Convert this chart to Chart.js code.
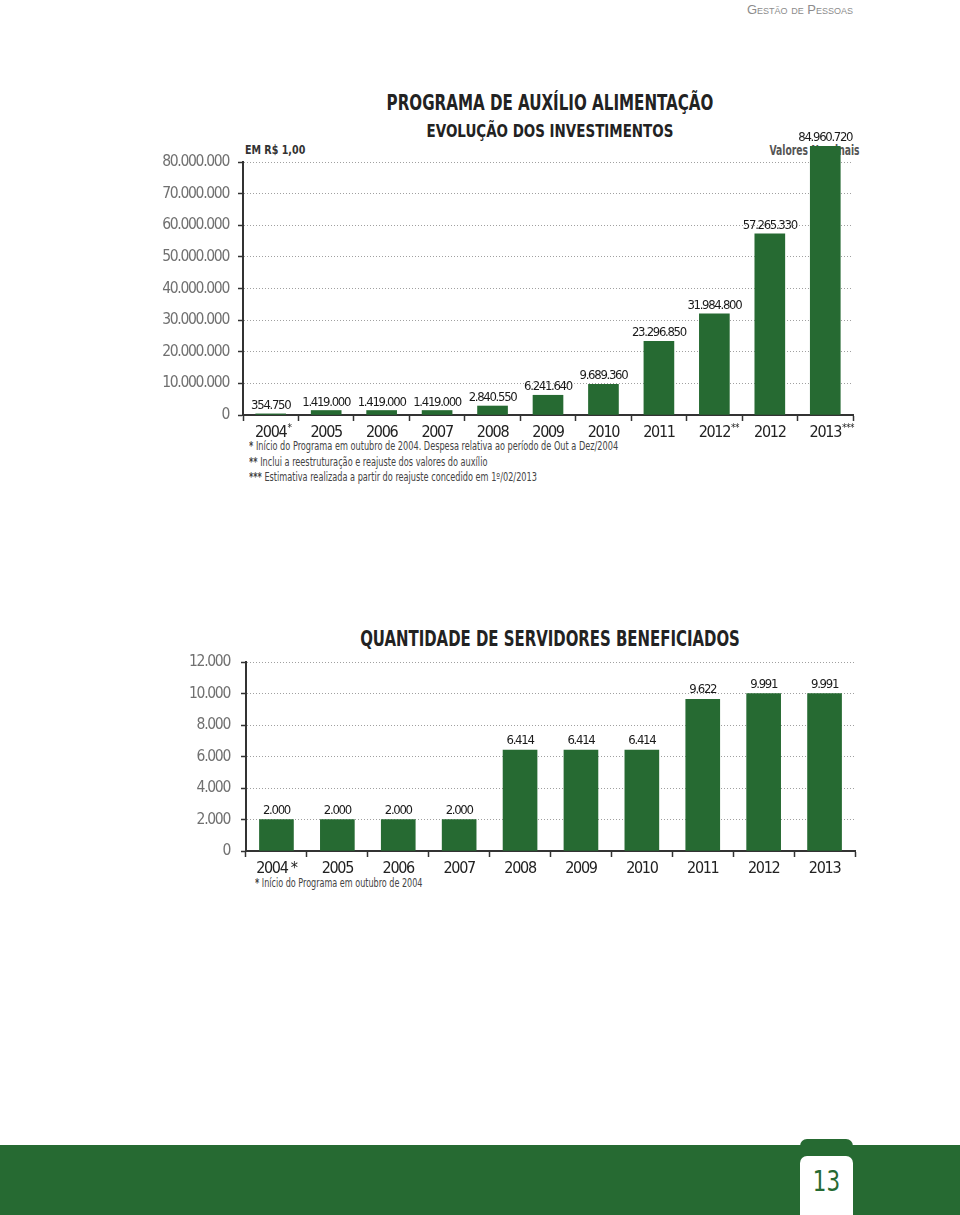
<!DOCTYPE html>
<html><head><meta charset="utf-8">
<script src="https://cdn.jsdelivr.net/npm/chart.js@4.4.0/dist/chart.umd.min.js"></script>
<style>
body{margin:0;width:960px;height:1215px;position:relative;background:#fff;overflow:hidden;font-family:'DejaVu Sans Condensed','DejaVu Sans',sans-serif;}
.t{position:absolute;white-space:nowrap;}
.c{left:0;width:1100px;text-align:center;transform-origin:550px 50%;}
.l{transform-origin:0 50%;}
.r{transform-origin:100% 50%;}
canvas{position:absolute;left:0;}
</style></head><body>
<div class="t" style="right:107px;top:1px;line-height:18px;font-family:'Liberation Sans',sans-serif;font-variant:small-caps;font-size:13px;color:#8c8c8c;">Gestão de Pessoas</div>
<div class="t c" style="top:89px;line-height:28px;font-size:21px;font-weight:bold;color:#222;transform:scaleX(0.8);">PROGRAMA DE AUXÍLIO ALIMENTAÇÃO</div>
<div class="t c" style="top:119px;line-height:24px;font-size:18px;font-weight:bold;color:#222;transform:scaleX(0.83);">EVOLUÇÃO DOS INVESTIMENTOS</div>
<div class="t l" style="left:245px;top:141px;line-height:18px;font-size:12.5px;font-weight:bold;color:#333;transform:scaleX(0.85);">EM R$ 1,00</div>
<div class="t r" style="right:100px;top:141px;line-height:18px;font-size:13.5px;font-weight:bold;color:#555;transform:scaleX(0.76);">Valores Nominais</div>
<div class="t l" style="left:249px;top:438px;line-height:16px;font-size:11.5px;color:#444;transform:scaleX(0.79);"><b>*</b> Início do Programa em outubro de 2004. Despesa relativa ao período de Out a Dez/2004</div>
<div class="t l" style="left:249px;top:454px;line-height:16px;font-size:11.5px;color:#444;transform:scaleX(0.79);"><b>**</b> Inclui a reestruturação e reajuste dos valores do auxílio</div>
<div class="t l" style="left:249px;top:469px;line-height:16px;font-size:11.5px;color:#444;transform:scaleX(0.79);"><b>***</b> Estimativa realizada a partir do reajuste concedido em 1º/02/2013</div>
<div class="t c" style="top:625px;line-height:28px;font-size:21px;font-weight:bold;color:#222;transform:scaleX(0.79);">QUANTIDADE DE SERVIDORES BENEFICIADOS</div>
<div class="t l" style="left:255px;top:875px;line-height:16px;font-size:11.5px;color:#444;transform:scaleX(0.78);"><b>*</b> Início do Programa em outubro de 2004</div>
<canvas id="c1" width="960" height="350" style="top:110px;"></canvas>
<canvas id="c2" width="960" height="260" style="top:620px;"></canvas>
<div style="position:absolute;left:0;top:1145px;width:960px;height:70px;background:#266a32;"></div>
<div style="position:absolute;left:800px;top:1139px;width:53px;height:20px;background:#266a32;border-radius:7px 7px 0 0;"></div>
<div style="position:absolute;left:800px;top:1156px;width:53px;height:59px;background:#fff;border-radius:7px 7px 0 0;"></div>
<div class="t" style="left:800px;width:53px;text-align:center;top:1166px;line-height:32px;font-size:28px;color:#266a32;transform:scaleX(0.85);">13</div>
<script>
const GREEN = '#266a32';
const investYears = ["2004*","2005","2006","2007","2008","2009","2010","2011","2012**","2012","2013***"];
const investValues = [354750,1419000,1419000,1419000,2840550,6241640,9689360,23296850,31984800,57265330,84960720];
const investTickStep = 10000000;
const investMax = 80000000;
const staffYears = ["2004 *","2005","2006","2007","2008","2009","2010","2011","2012","2013"];
const staffValues = [2000,2000,2000,2000,6414,6414,6414,9622,9991,9991];
const staffTickStep = 2000;
const staffMax = 12000;

const FONT = "'DejaVu Sans Condensed','DejaVu Sans',sans-serif";
function fmt(n){ return String(n).replace(/\B(?=(\d{3})+(?!\d))/g,'.'); }

const narrowText = {
  id:'narrowText',
  beforeDraw(chart){ chart.ctx.letterSpacing = '-1.3px'; }
};
const valueLabels = {
  id:'valueLabels',
  afterDatasetsDraw(chart, args, opts){
    const ctx = chart.ctx, meta = chart.getDatasetMeta(0), data = chart.data.datasets[0].data;
    ctx.save();
    ctx.font = opts.size + 'px ' + FONT;
    ctx.fillStyle = '#1a1a1a'; ctx.textAlign = 'center'; ctx.textBaseline = 'alphabetic';
    meta.data.forEach((bar,i)=>{ ctx.fillText(fmt(data[i]), bar.x, bar.y - opts.gap); });
    ctx.restore();
  }
};
const starMarks = {
  id:'starMarks',
  afterDraw(chart, args, opts){
    if(!opts.labels) return;
    const xs = chart.scales.x, ctx = chart.ctx;
    ctx.save();
    opts.labels.forEach((lab,i)=>{
      const m = lab.match(/\*+/); if(!m) return;
      const year = lab.replace(/\*/g,'');
      ctx.font = opts.size + 'px ' + FONT;
      const w = ctx.measureText(year).width;
      const x = xs.getPixelForTick(i) + w/2 + 1;
      ctx.font = '10px ' + FONT;
      ctx.letterSpacing = '-0.5px';
      ctx.fillStyle = '#222'; ctx.textAlign='left'; ctx.textBaseline='top';
      ctx.fillText(m[0], x, xs.top + 8);
      ctx.letterSpacing = '-1.3px';
    });
    ctx.restore();
  }
};

function makeChart(id, labels, values, o){
  return new Chart(document.getElementById(id), {
    type:'bar',
    data:{labels:labels, datasets:[{data:values, backgroundColor:GREEN, barThickness:o.bar, clip:false}]},
    options:{
      responsive:false, animation:false, devicePixelRatio:1,
      layout:{padding:{left:0,right:o.right,top:o.top,bottom:0}},
      plugins:{legend:{display:false}, tooltip:{enabled:false},
        valueLabels:{size:o.labelSize, gap:o.gap}, starMarks:{labels:o.stars, size:o.xSize}},
      scales:{
        x:{
          grid:{display:true, drawOnChartArea:false, drawTicks:true, tickLength:6, tickColor:'#333', tickWidth:1.5, offset:true},
          border:{display:true, color:'#333', width:2},
          ticks:{font:{family:FONT, size:o.xSize}, color:'#222', padding:o.xPad, maxRotation:0, autoSkip:false,
            callback:(v,i)=> o.stars ? labels[i].replace(/\*/g,'') : labels[i]},
          afterFit:s=>{ s.height = o.xH; }
        },
        y:{
          min:0, max:o.max,
          ticks:{stepSize:o.step, callback:v=>fmt(v), font:{family:FONT, size:15.5}, color:'#707070', padding:o.yPad},
          grid:{color:'#a0a0a0', lineWidth:1, tickLength:5, tickColor:'#333', tickWidth:1.5, tickBorderDash:[]},
          border:{color:'#333', width:2, dash:[1,2]},
          afterFit:s=>{ s.width = o.yW; }
        }
      }
    },
    plugins:[narrowText, valueLabels, starMarks]
  });
}

makeChart('c1', investYears, investValues, {bar:30, right:107, top:52, xH:45, yW:243, max:investMax, step:investTickStep, labelSize:13, gap:5, xSize:16, xPad:2, yPad:9, stars:investYears});
makeChart('c2', staffYears, staffValues, {bar:34, right:105, top:42, xH:29, yW:246, max:staffMax, step:staffTickStep, labelSize:13, gap:6, xSize:16, xPad:2, yPad:11, stars:null});
</script>
</body></html>
